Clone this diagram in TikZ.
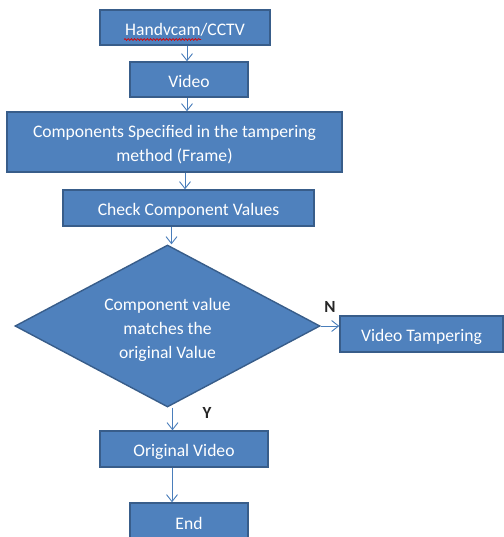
\documentclass[tikz,border=0pt]{standalone}
\usepackage{fontspec}
\setmainfont{Carlito}
\usetikzlibrary{shapes.geometric,arrows.meta,decorations.pathmorphing}
\definecolor{boxfill}{HTML}{4F81BD}
\definecolor{boxline}{HTML}{385D8A}
\definecolor{arrowline}{HTML}{4A7EBB}
% set text a little below the optical centre of its box, keeping the box size
\newcommand\boxtext[1]{\raisebox{-3pt}[\height][\depth]{\begin{tabular}{@{}c@{}}#1\end{tabular}}}
\tikzset{
  stepbox/.style={draw=boxline, line width=1.4pt, fill=boxfill, text=white,
    font=\fontsize{17.6}{23.8}\selectfont, inner sep=0pt, align=center},
  decision/.style={diamond, draw=boxline, line width=1.4pt, fill=boxfill, text=white,
    font=\fontsize{17.6}{23.8}\selectfont, inner sep=0pt, align=center},
  flow/.style={draw=arrowline, line width=0.9pt,
    -{Straight Barb[length=7pt,width=11pt,line width=0.9pt]}},
  branch/.style={font=\bfseries\fontsize{17}{19}\selectfont, text=black!85}
}
\begin{document}
\begin{tikzpicture}[x=1pt,y=-1pt]
\useasboundingbox (0,0) rectangle (503,537);

\node[stepbox, minimum width=170, minimum height=35] (hand) at (185,27.5) {\boxtext{Handvcam/CCTV}};
\node[stepbox, minimum width=118, minimum height=35] (vid) at (189,79.5) {\boxtext{Video}};
\node[stepbox, minimum width=335, minimum height=60] (comp) at (174.5,142)
  {\boxtext{Components Specified in the tampering\\method (Frame)}};
\node[stepbox, minimum width=251, minimum height=36] (check) at (188.5,208) {\boxtext{Check Component Values}};
\node[decision, minimum width=305, minimum height=162, aspect=1.88] (dia) at (167.5,326)
  {\raisebox{-4pt}[\height][\depth]{\begin{tabular}{@{}c@{}}Component value\\matches the\\original Value\end{tabular}}};
\node[stepbox, minimum width=163, minimum height=36] (tamp) at (421.5,334) {\boxtext{Video Tampering}};
\node[stepbox, minimum width=168, minimum height=36] (orig) at (184,449) {\boxtext{Original Video}};
\node[stepbox, minimum width=118, minimum height=37] (fin) at (189,521.5) {\boxtext{End}};

% spell-check underline beneath the first word
\coordinate (wavyL) at (124,39.5);
\coordinate (wavyR) at (201,39.5);
\draw[red!85!black, line width=0.7pt, decorate,
  decoration={snake, amplitude=0.9pt, segment length=3.2pt}] (wavyL) -- (wavyR);

% connectors
\draw[flow] ([xshift=2pt]hand.south) -- ([xshift=-2pt]vid.north);
\draw[flow] ([xshift=-2pt]vid.south) -- ([xshift=12.5pt]comp.north);
\draw[flow] ([xshift=10.5pt]comp.south) -- ([xshift=-3.5pt]check.north);
\draw[flow] ([xshift=-17pt]check.south) -- ([xshift=4pt]dia.north);
\draw[flow] (dia.east) -- (dia.east -| tamp.west);
\draw[flow] ([xshift=5pt]dia.south) -- ([xshift=5pt]dia.south |- orig.north);
\draw[flow] ([xshift=-12pt]orig.south) -- ([xshift=-17pt]fin.north);

\node[branch] (nlab) at (330,307) {N};
\node[branch] (ylab) at (207,413) {Y};
\end{tikzpicture}
\end{document}
